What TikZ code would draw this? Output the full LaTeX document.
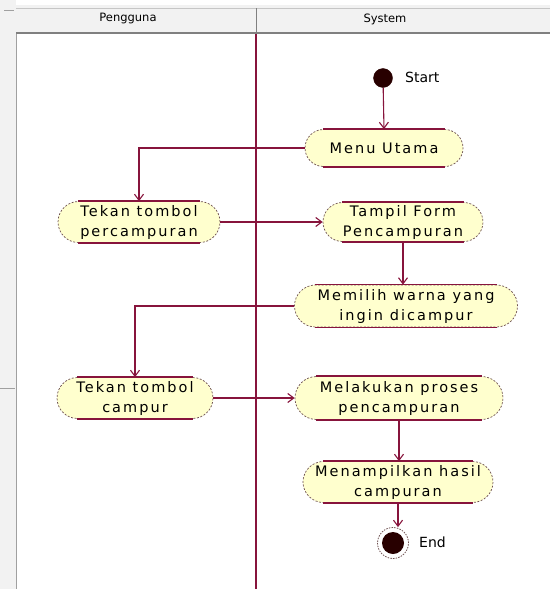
\documentclass[tikz,border=0pt]{standalone}
\usepackage{fontspec}
\setmainfont{DejaVu Sans}
\newfontfamily\actfamily[LetterSpace=14]{DejaVu Sans}
\usetikzlibrary{arrows.meta}

\definecolor{edgecol}{RGB}{135,20,60}
\definecolor{sidecol}{RGB}{110,80,80}
\definecolor{actfill}{RGB}{255,255,206}
\definecolor{headfill}{RGB}{242,242,242}
\definecolor{framecol}{RGB}{160,160,160}
\definecolor{dotfill}{RGB}{40,0,0}

\tikzset{
  x=1pt, y=-1pt,
  act/.style={rectangle, rounded corners=#1, minimum height={2*#1},
    fill=actfill, draw=sidecol, dash pattern=on 2pt off 1.6pt, line width=0.7pt,
    align=center, inner sep=0pt,
    font=\actfamily\fontsize{14.5}{20}\selectfont},
  actline/.style={draw=edgecol, line width=1.5pt, solid, sharp corners},
  flow/.style={draw=edgecol, line width=1.1pt, -{Straight Barb[length=6pt,width=9pt]}},
  lane/.style={draw=edgecol, line width=1.3pt},
  tag/.style={font=\fontsize{14}{16}\selectfont, anchor=west, inner sep=0pt},
  headtext/.style={font=\fontsize{11.5}{13}\selectfont, inner sep=0pt}
}

\begin{document}
\begin{tikzpicture}
  % canvas
  \useasboundingbox (0,0) rectangle (550,589);
  \fill[white] (0,0) rectangle (550,589);

  % left frame strip
  \fill[headfill] (0,0) rectangle (16,589);
  \draw[framecol, line width=1.6pt] (16.5,33) -- (16.5,589);
  \draw[framecol, line width=0.8pt] (4,10) -- (14,10);
  \draw[framecol, line width=0.8pt] (0,388) -- (15,388);

  % swimlane header
  \fill[headfill] (16,5) rectangle (550,33);
  \draw[framecol!60, line width=0.6pt] (16,8) -- (550,8);
  \draw[framecol!80!black, line width=2pt] (16,33) -- (550,33);
  \draw[framecol!80!black, line width=1pt] (256,8) -- (256,33);
  \node[headtext] (h1) at (128,19) {Pengguna};
  \node[headtext] (h2) at (385,19) {System};

  % lane divider
  \draw[lane] (256,34) -- (256,589);

  % start
  \node[circle, fill=dotfill, draw=dotfill, minimum size=19pt, inner sep=0pt] (start) at (383,78) {};
  \node[tag] (startlbl) at (405,77) {Start};

  % activities
  \node[act=18.5pt, minimum width=158pt] (menu) at (384,148) {Menu Utama};
  \node[act=20.5pt, minimum width=162pt] (tekan1) at (139,222) {Tekan tombol\\percampuran};
  \node[act=19.5pt, minimum width=160pt] (tampil) at (403,222) {Tampil Form\\Pencampuran};
  \node[act=21pt, minimum width=223pt] (pilih) at (406,306) {Memilih warna yang\\ingin dicampur};
  \node[act=20.5pt, minimum width=156pt] (tekan2) at (135,398) {Tekan tombol\\campur};
  \node[act=21.5pt, minimum width=208pt] (proses) at (399,398) {Melakukan proses\\pencampuran};
  \node[act=20.5pt, minimum width=190pt] (tampilkan) at (398,482) {Menampilkan hasil\\campuran};

  % solid top and bottom edges of the activity capsules
  \foreach \n/\r in {menu/18.5pt, tekan1/20.5pt, tampil/19.5pt, pilih/21pt,
                     tekan2/20.5pt, proses/21.5pt, tampilkan/20.5pt} {
    \draw[actline] ([xshift=\r]\n.north west) -- ([xshift=-\r]\n.north east);
    \draw[actline] ([xshift=\r]\n.south west) -- ([xshift=-\r]\n.south east);
  }

  % end
  \node[circle, draw=sidecol, dash pattern=on 1.5pt off 1.2pt, line width=0.8pt, minimum size=31pt, inner sep=0pt] (endring) at (393,543) {};
  \node[circle, fill=dotfill, minimum size=22pt, inner sep=0pt] (end) at (393,543) {};
  \node[tag] (endlbl) at (419,542) {End};

  % transitions
  \draw[flow] (start) -- (menu.north);
  \draw[flow] (menu.west) -| (tekan1.north);
  \draw[flow] (tekan1.east) -- (tampil.west);
  \draw[flow] (tampil.south) -- (tampil.south |- pilih.north);
  \draw[flow] (pilih.west) -| (tekan2.north);
  \draw[flow] (tekan2.east) -- (proses.west);
  \draw[flow] (proses.south) -- (proses.south |- tampilkan.north);
  \draw[flow] (tampilkan.south) -- (tampilkan.south |- endring.north);
\end{tikzpicture}
\end{document}
